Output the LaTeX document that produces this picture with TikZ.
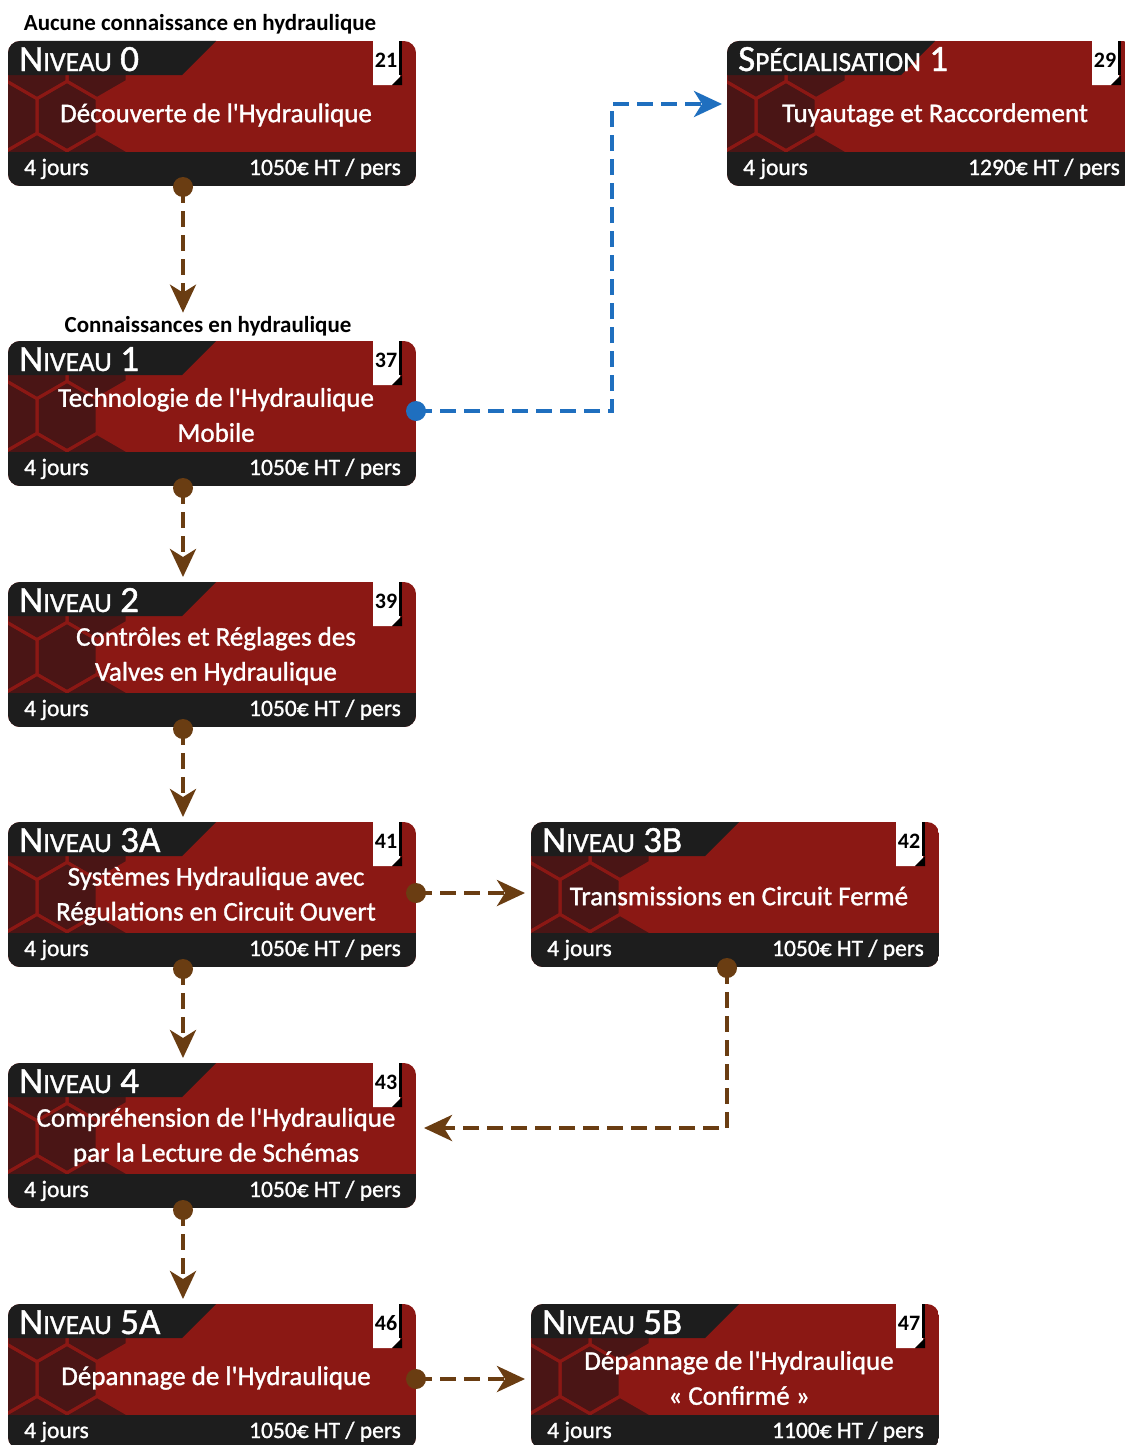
\documentclass[tikz,border=0pt]{standalone}
\usepackage{fontspec}
\setmainfont{Carlito}[Ligatures=TeXOff]
\newfontfamily\medium{Carlito}[Ligatures=TeXOff, FakeBold=1.2]
\usetikzlibrary{arrows.meta,calc}

\definecolor{cardred}{HTML}{8B1814}
\definecolor{carddark}{HTML}{1D1D1D}
\definecolor{hexdark}{HTML}{4A1515}
\definecolor{linkbrown}{HTML}{6A3D12}
\definecolor{linkblue}{HTML}{1F6FBF}

% petites capitales faites main
\newcommand\petit[1]{{\fontsize{27.5}{27.5}\selectfont #1}}

\tikzset{
  cardbox/.style={minimum width=408pt, minimum height=145pt, inner sep=0pt, outer sep=0pt},
  cardhead/.style={text=white, font=\medium\fontsize{37}{37}\selectfont, anchor=base west, inner sep=0pt},
  cardtitle/.style={text=white, font=\medium\fontsize{27}{35}\selectfont, align=center, inner sep=0pt},
  cardfoot/.style={text=white, font=\medium\fontsize{23.5}{23.5}\selectfont, inner sep=0pt},
  pagenum/.style={font=\bfseries\fontsize{22}{22}\selectfont, inner sep=0pt},
  toplabel/.style={font=\bfseries\fontsize{23}{23}\selectfont, anchor=base, inner sep=0pt},
  link/.style={draw=linkbrown, line width=4pt, dash pattern=on 16pt off 8pt,
    -{Stealth[length=28pt, width=26pt, inset=8pt]}},
}

% #1 nom, #2 coin haut gauche, #3 niveau, #4 titre, #5 page, #6 duree, #7 prix
\newcommand\card[7]{%
  \node[cardbox, anchor=north west] (#1) at (#2) {};
  \begin{scope}[shift={(#1.north west)}]
    \begin{scope}
      \clip[rounded corners=12pt] (0,0) rectangle (408,145);
      \fill[cardred] (0,0) rectangle (408,145);
      % hexagones
      \begin{scope}
        \clip (0,34) rectangle (408,111);
        \foreach \cx/\cy in {29/23, 89/23, -1/75, 59/75, 29/127, 89/127}
          \fill[hexdark] ({\cx},{\cy-34.6}) -- ++(30,17.3) -- ++(0,34.6)
            -- ++(-30,17.3) -- ++(-30,-17.3) -- ++(0,-34.6) -- cycle;
        \foreach \cx/\cy in {29/23, 89/23, -1/75, 59/75, 29/127, 89/127}
          \draw[cardred, line width=3pt] ({\cx},{\cy-34.6}) -- ++(30,17.3) -- ++(0,34.6)
            -- ++(-30,17.3) -- ++(-30,-17.3) -- ++(0,-34.6) -- cycle;
      \end{scope}
      % bandeaux
      \fill[carddark] (0,0) -- (208,0) -- (174,34) -- (0,34) -- cycle;
      \fill[carddark] (0,111) rectangle (408,145);
    \end{scope}
    % page
    \fill[white] (365,0) -- (392,0) -- (392,36) -- (384,44) -- (365,44) -- cycle;
    \fill[black] (391,0) rectangle (394,34);
    \fill[black] (384,44) -- (394,34) -- (394,44) -- cycle;
    \node[pagenum] (#1p) at (378,19) {#5};
    % textes
    \node[cardhead] (#1h) at (11,30) {#3};
    \node[cardtitle] (#1t) at (208,74) {#4};
    \node[cardfoot, anchor=base west] (#1d) at (16,134) {#6};
    \node[cardfoot, anchor=base east] (#1c) at (393,134) {#7};
  \end{scope}
}

\begin{document}
\begin{tikzpicture}[x=1pt, y=-1pt]
  \useasboundingbox (0,0) rectangle (1124,1445);

  % cartes
  \card{n0}{8,41}{N\petit{IVEAU} 0}{Découverte de l'Hydraulique}{21}{4 jours}{1050€ HT / pers}
  \card{n1}{8,341}{N\petit{IVEAU} 1}{Technologie de l'Hydraulique\\Mobile}{37}{4 jours}{1050€ HT / pers}
  \card{n2}{8,582}{N\petit{IVEAU} 2}{Contrôles et Réglages des\\Valves en Hydraulique}{39}{4 jours}{1050€ HT / pers}
  \card{n3a}{8,822}{N\petit{IVEAU} 3A}{Systèmes Hydraulique avec\\Régulations en Circuit Ouvert}{41}{4 jours}{1050€ HT / pers}
  \card{n3b}{531,822}{N\petit{IVEAU} 3B}{Transmissions en Circuit Fermé}{42}{4 jours}{1050€ HT / pers}
  \card{n4}{8,1063}{N\petit{IVEAU} 4}{Compréhension de l'Hydraulique\\par la Lecture de Schémas}{43}{4 jours}{1050€ HT / pers}
  \card{n5a}{8,1304}{N\petit{IVEAU} 5A}{Dépannage de l'Hydraulique}{46}{4 jours}{1050€ HT / pers}
  \card{n5b}{531,1304}{N\petit{IVEAU} 5B}{Dépannage de l'Hydraulique\\« Confirmé »}{47}{4 jours}{1100€ HT / pers}
  \card{sp}{727,41}{S\petit{PÉCIALISATION} 1}{Tuyautage et Raccordement}{29}{4 jours}{1290€ HT / pers}

  % prerequis
  \node[toplabel] (l0) at (200,31) {Aucune connaissance en hydraulique};
  \node[toplabel] (l1) at (208,332) {Connaissances en hydraulique};

  % liens
  \coordinate (d0) at ($(n0.south west)+(175,1)$);
  \coordinate (d1) at ($(n1.south west)+(175,2)$);
  \coordinate (d2) at ($(n2.south west)+(175,2)$);
  \coordinate (d3a) at ($(n3a.south west)+(175,2)$);
  \coordinate (d4) at ($(n4.south west)+(175,2)$);
  \coordinate (e3) at ($(n3a.north east)+(0,71)$);
  \coordinate (d3b) at ($(n3b.south west)+(196,1)$);
  \coordinate (f4) at ($(n4.north east)+(8,65)$);
  \coordinate (e5) at ($(n5a.north east)+(0,75)$);
  \coordinate (b1) at ($(n1.north east)+(0,70)$);
  \coordinate (s1) at ($(sp.north west)+(-5,63)$);

  \draw[link, shorten >=3pt] (d0) -- (d0 |- l1.north);
  \draw[link, shorten >=5pt] (d1) -- (d1 |- n2.north);
  \draw[link, shorten >=5pt] (d2) -- (d2 |- n3a.north);
  \draw[link, shorten >=5pt] (d3a) -- (d3a |- n4.north);
  \draw[link, shorten >=5pt] (d4) -- (d4 |- n5a.north);
  \draw[link, shorten >=6pt] (e3) -- (e3 -| n3b.west);
  \draw[link] (d3b) |- (f4);
  \draw[link, shorten >=6pt] (e5) -- (e5 -| n5b.west);
  \draw[link, draw=linkblue] (b1) -- ++(196,0) |- (s1);

  % points de depart
  \foreach \d in {d0, d1, d2, d3a, d4, e3, d3b, e5}
    \fill[linkbrown] (\d) circle (10pt);
  \fill[linkblue] (b1) circle (10pt);
\end{tikzpicture}
\end{document}
